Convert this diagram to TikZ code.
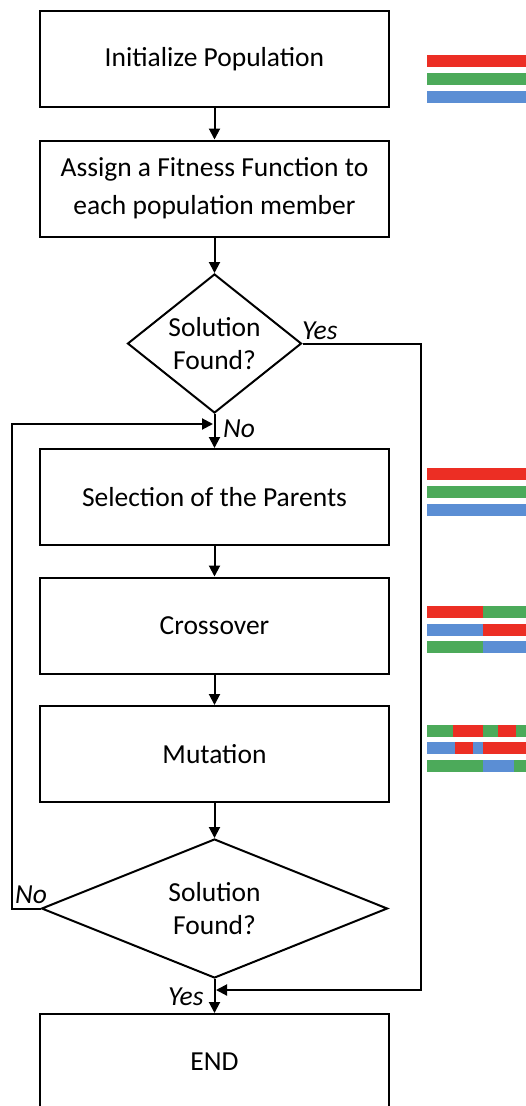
\documentclass[tikz,border=0pt]{standalone}
\usepackage{fontspec}
\setmainfont{Carlito}
\usetikzlibrary{shapes.geometric,arrows.meta}
\definecolor{genered}{RGB}{236,46,36}
\definecolor{genegreen}{RGB}{76,170,90}
\definecolor{geneblue}{RGB}{91,142,212}
\begin{document}
\begin{tikzpicture}[x=1pt,y=-1pt,
  stepbox/.style={draw,line width=2pt,minimum width=349pt,minimum height=96pt,
    inner sep=0pt,align=center,font=\fontsize{27.5}{38}\selectfont},
  decision/.style={draw,diamond,line width=2pt,inner sep=0pt,align=center,
    font=\fontsize{27.5}{33}\selectfont},
  flow/.style={line width=2pt,-{Triangle[length=11pt,width=11pt]}},
  lbl/.style={font=\fontsize{27.5}{30}\selectfont\itshape,inner sep=0pt,anchor=base west},
  gene/.style={fill=#1,draw=none}]
\useasboundingbox (0,0) rectangle (526,1106);
\clip (0,0) rectangle (526,1106);

% flowchart steps
\node[stepbox] (init) at (214.5,59) {Initialize Population};
\node[stepbox] (fit) at (214.5,188.5) {Assign a Fitness Function to\\each population member};
\node[decision,minimum width=174pt,minimum height=139pt,aspect=1.25] (check1) at (214.5,343.5) {Solution\\Found?};
\node[stepbox] (sel) at (214.5,497) {Selection of the Parents};
\node[stepbox] (cross) at (214.5,625.5) {Crossover};
\node[stepbox] (mut) at (214.5,754) {Mutation};
\node[decision,minimum width=346pt,minimum height=139pt,aspect=2.5] (check2) at (214.5,908.5) {Solution\\Found?};
\node[stepbox] (end) at (214.5,1062) {END};

% branch labels
\node[lbl] (yes1) at (302,339) {Yes};
\node[lbl] (no1) at (223,437) {No};
\node[lbl] (no2) at (15,903) {No};
\node[lbl] (yes2) at (168,1005) {Yes};

% routing points
\coordinate (yescorner) at (421,343.5);
\coordinate (yesturn) at (421,990);
\coordinate (merge) at (216,990);
\coordinate (nocorner) at (12,908.5);
\coordinate (noturn) at (12,424);
\coordinate (loopin) at (213,424);

% connectors
\draw[flow] (init) -- (fit);
\draw[flow] (fit) -- (check1);
\draw[flow] (check1) -- (sel);
\draw[flow] (sel) -- (cross);
\draw[flow] (cross) -- (mut);
\draw[flow] (mut) -- (check2);
\draw[flow] (check2) -- (end);
\draw[flow] (check1.east) -- (yescorner) -- (yesturn) -- (merge);
\draw[flow] (check2.west) -- (nocorner) -- (noturn) -- (loopin);

% chromosomes: initial population
\fill[gene=genered]   (427,55) rectangle (526,67);
\fill[gene=genegreen] (427,73) rectangle (526,85);
\fill[gene=geneblue]  (427,91) rectangle (526,103);

% chromosomes: selected parents
\fill[gene=genered]   (427,468) rectangle (526,480);
\fill[gene=genegreen] (427,486) rectangle (526,498);
\fill[gene=geneblue]  (427,504) rectangle (526,516);

% chromosomes: after crossover
\fill[gene=genered]   (427,606) rectangle (483,618);
\fill[gene=genegreen] (483,606) rectangle (526,618);
\fill[gene=geneblue]  (427,624) rectangle (483,636);
\fill[gene=genered]   (483,624) rectangle (526,636);
\fill[gene=genegreen] (427,641) rectangle (483,653);
\fill[gene=geneblue]  (483,641) rectangle (526,653);

% chromosomes: after mutation
\fill[gene=genegreen] (427,725) rectangle (453,737);
\fill[gene=genered]   (453,725) rectangle (483,737);
\fill[gene=genegreen] (483,725) rectangle (498,737);
\fill[gene=genered]   (498,725) rectangle (516,737);
\fill[gene=genegreen] (516,725) rectangle (526,737);
\fill[gene=geneblue]  (427,742) rectangle (455,754);
\fill[gene=genered]   (455,742) rectangle (473,754);
\fill[gene=geneblue]  (473,742) rectangle (483,754);
\fill[gene=genered]   (483,742) rectangle (526,754);
\fill[gene=genegreen] (427,760) rectangle (483,772);
\fill[gene=geneblue]  (483,760) rectangle (514,772);
\fill[gene=genegreen] (514,760) rectangle (526,772);
\end{tikzpicture}
\end{document}
